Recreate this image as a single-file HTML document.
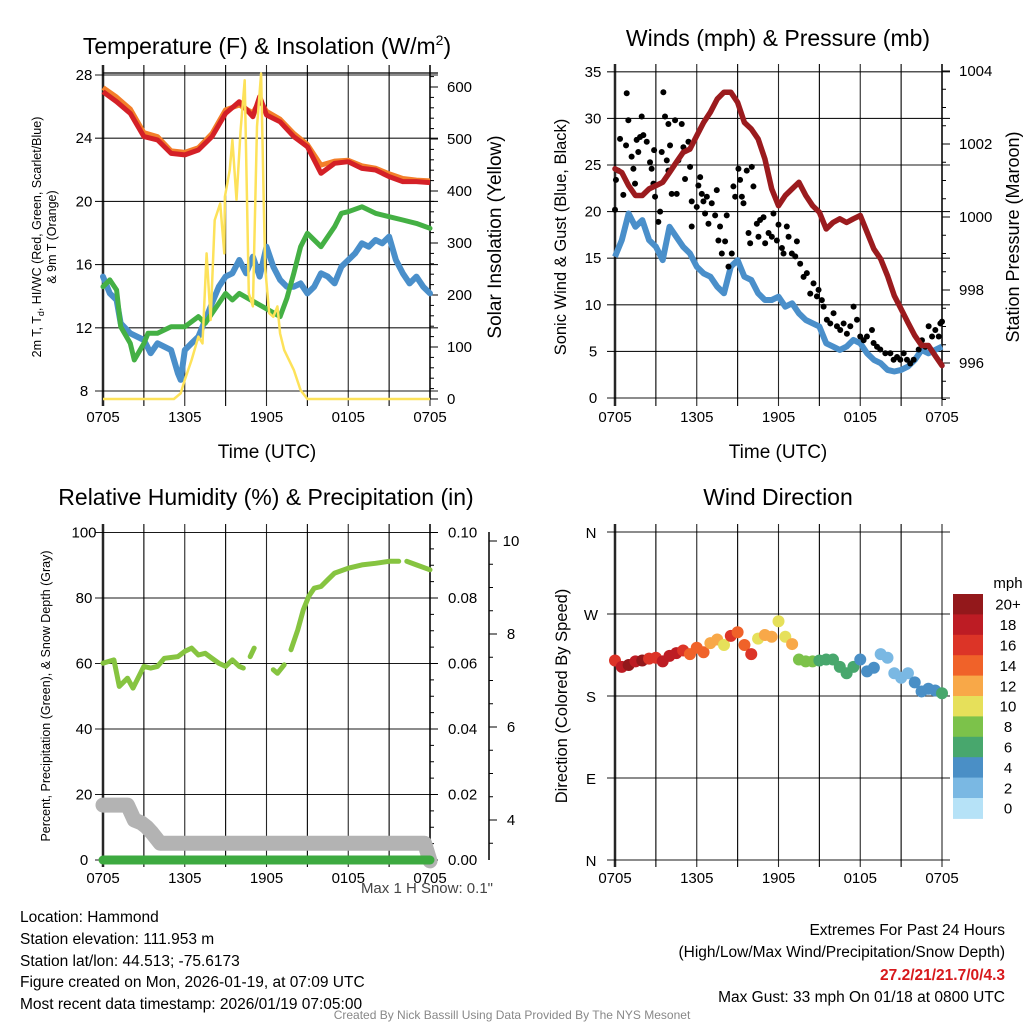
<!DOCTYPE html>
<html><head><meta charset="utf-8"><title>Mesonet Meteogram - Hammond</title>
<style>
html,body{margin:0;padding:0;background:#fff;}
svg{display:block;font-family:"Liberation Sans",Arial,sans-serif;}
</style></head>
<body>
<svg id="chart" xmlns="http://www.w3.org/2000/svg" width="1024" height="1024" viewBox="0 0 1024 1024">
<rect x="0" y="0" width="1024" height="1024" fill="#fff"/>
<g id="p1"></g>
<g id="p2"></g>
<g id="p3"></g>
<g id="p4"></g>

<text x="267" y="54" font-size="23" text-anchor="middle">Temperature (F) &amp; Insolation (W/m<tspan dy="-9" font-size="14">2</tspan><tspan dy="9">)</tspan></text>
<text x="778" y="46" font-size="23" text-anchor="middle">Winds (mph) &amp; Pressure (mb)</text>
<text x="266" y="505" font-size="23" text-anchor="middle">Relative Humidity (%) &amp; Precipitation (in)</text>
<text x="778" y="505" font-size="23" text-anchor="middle">Wind Direction</text>

<text x="267" y="458" font-size="19" text-anchor="middle">Time (UTC)</text>
<text x="778" y="458" font-size="19" text-anchor="middle">Time (UTC)</text>

<text transform="translate(41,237) rotate(-90)" font-size="12.5" text-anchor="middle">2m T, T<tspan font-size="9" dy="3">d</tspan><tspan dy="-3">, HI/WC (Red, Green, Scarlet/Blue)</tspan></text>
<text transform="translate(56,237) rotate(-90)" font-size="12.5" text-anchor="middle">&amp; 9m T (Orange)</text>
<text transform="translate(501,237) rotate(-90)" font-size="19" text-anchor="middle">Solar Insolation (Yellow)</text>
<text transform="translate(566,237) rotate(-90)" font-size="16.5" text-anchor="middle">Sonic Wind &amp; Gust (Blue, Black)</text>
<text transform="translate(1019,237) rotate(-90)" font-size="18" text-anchor="middle">Station Pressure (Maroon)</text>
<text transform="translate(50,696) rotate(-90)" font-size="12.5" text-anchor="middle">Percent, Precipitation (Green), &amp; Snow Depth (Gray)</text>
<text transform="translate(567,696) rotate(-90)" font-size="16.5" text-anchor="middle">Direction (Colored By Speed)</text>

<text x="493" y="893" font-size="15" text-anchor="end" fill="#444">Max 1 H Snow: 0.1"</text>

<g font-size="15.5">
<text x="20" y="922">Location: Hammond</text>
<text x="20" y="944">Station elevation: 111.953 m</text>
<text x="20" y="966">Station lat/lon: 44.513; -75.6173</text>
<text x="20" y="987">Figure created on Mon, 2026-01-19, at 07:09 UTC</text>
<text x="20" y="1009">Most recent data timestamp: 2026/01/19 07:05:00</text>
</g>
<g font-size="15.5" text-anchor="end">
<text x="1005" y="935">Extremes For Past 24 Hours</text>
<text x="1005" y="957">(High/Low/Max Wind/Precipitation/Snow Depth)</text>
<text x="1005" y="980" fill="#d7191c" font-weight="bold">27.2/21/21.7/0/4.3</text>
<text x="1005" y="1002">Max Gust: 33 mph On 01/18 at 0800 UTC</text>
</g>
<text x="512" y="1019" font-size="12" text-anchor="middle" fill="#888">Created By Nick Bassill Using Data Provided By The NYS Mesonet</text>
</svg>
<script>
// ---------- shared data ----------
const xTickLabels = ['0705','1305','1905','0105','0705'];
// Panel 1
const tempTicks = [8,12,16,20,24,28];
const solarTicks = [0,100,200,300,400,500,600];
const tempHours = [0,1,2,3,4,5,6,7,8,9,10,11,11.5,12,13,14,15,16,17,18,19,20,21,22,23,24];
const tempRed = [26.94,26.31,25.57,24.10,23.89,23.04,22.94,23.25,24.1,25.57,26.31,25.36,26.63,25.47,25.04,24.10,23.46,21.78,22.41,22.51,22.09,21.99,21.57,21.25,21.25,21.19];
const tempOrange = [27.2,26.6,25.85,24.35,24.1,23.2,23.1,23.4,24.3,25.8,26.1,25.6,26.4,25.7,25.2,24.3,23.6,22.3,22.55,22.6,22.25,22.1,21.75,21.45,21.35,21.3];
const dewHours = [0,0.5,1,1.3,2,2.3,3,3.3,4,5,6,7,7.5,8,9,9.5,10,13,13.5,14,14.5,15,16,17,17.5,18,19,20,21,22,23,24];
const dewGreen = [14.6,15.03,14.39,12.07,11.01,9.96,11.01,11.65,11.65,12.07,12.07,12.71,12.28,12.92,14.18,13.76,14.18,12.71,13.87,15.45,17.13,17.98,17.13,18.4,19.25,19.35,19.66,19.25,19.03,18.82,18.61,18.3];
const blueHours = [0,0.5,1,1.3,2,3,3.5,4,5,5.5,5.7,6,6.5,7,7.5,8,8.5,9,9.5,10,10.5,11,11.5,12,12.5,13,13.5,14,14.5,15,15.5,16,16.5,17,17.5,18,18.5,19,19.5,20,20.5,21,21.5,22,22.5,23,23.5,24];
const blueTemp = [15.24,14.18,13.76,12.28,11.65,11.23,10.39,11.02,10.59,9.12,8.7,10.59,11.02,11.44,12.49,13.55,14.6,15.24,15.45,16.29,15.45,16.5,15.24,17.13,15.87,15.03,14.6,14.6,14.81,14.18,14.6,15.45,15.24,14.81,15.87,16.29,16.71,17.35,17.13,17.56,17.35,17.77,16.29,15.45,14.81,15.24,14.6,14.18];
const solarHours = [0,5.2,5.7,6,6.5,7,7.3,7.6,7.9,8.2,8.6,8.9,8.95,9.3,9.5,9.8,10.1,10.4,10.7,11,11.3,11.6,11.9,12.2,12.5,12.8,13,13.3,14,14.5,15,24];
const solarVals = [0,0,11,37,75,120,107,280,152,344,376,280,389,440,498,383,517,613,203,178,524,626,254,165,158,178,126,94,56,17,0,0];
// Panel 2
const windTicks = [0,5,10,15,20,25,30,35];
const presTicks = [996,998,1000,1002,1004];
const halfHours = [0,0.5,1,1.5,2,2.5,3,3.5,4,4.5,5,5.5,6,6.5,7,7.5,8,8.5,9,9.5,10,10.5,11,11.5,12,12.5,13,13.5,14,14.5,15,15.5,16,16.5,17,17.5,18,18.5,19,19.5,20,20.5,21,21.5,22,22.5,23,23.5,24];
const pressure = [1001.32,1001.22,1000.86,1000.59,1000.59,1000.77,1000.86,1000.95,1001.22,1001.5,1001.77,1001.86,1002.23,1002.59,1002.87,1003.23,1003.42,1003.42,1003.14,1002.59,1002.41,1002.14,1001.59,1000.77,1000.31,1000.59,1000.77,1000.95,1000.59,1000.31,1000.13,999.67,999.85,999.95,999.85,999.95,1000.04,999.58,999.12,998.85,998.39,997.84,997.48,997.11,996.75,996.48,996.48,996.2,995.93];
const sonicWind = [15.16,16.94,19.8,18.37,19.09,16.94,16.23,14.8,18.37,17.3,16.23,15.52,14.09,13.37,13.02,11.94,11.23,14.09,14.8,13.02,12.66,11.23,10.52,10.52,10.87,9.8,10.16,9.09,8.37,8.02,7.66,5.87,5.52,5.16,5.52,6.23,5.87,4.8,4.09,3.73,3.02,2.84,3.02,3.37,4.09,5.16,4.8,5.16,5.52];
const gustHours = [0,0.07,0.24,0.37,0.61,0.86,0.98,0.81,1.22,1.35,1.47,1.59,1.71,1.84,1.96,2.08,2.33,2.57,2.69,2.82,2.87,2.94,3.18,3.31,3.43,3.55,3.67,3.8,3.92,3.92,4.04,4.16,4.41,4.53,4.65,4.9,5.02,5.14,5.39,5.51,5.63,5.63,6,6.12,6.25,6.37,6.49,6.61,6.74,6.86,7.1,7.35,7.47,7.59,7.71,7.84,8.08,8.2,8.33,8.57,8.69,8.82,9.06,9.18,9.31,9.43,9.67,9.8,9.92,10.04,10.16,10.41,10.53,10.65,10.9,11.02,11.27,11.51,11.63,11.88,12,12.25,12.37,12.61,12.74,12.98,13.23,13.35,13.59,13.84,14.08,14.33,14.57,14.82,14.94,15.18,15.31,15.55,15.8,16.04,16.29,16.53,16.78,17.02,17.27,17.51,17.76,18,18.25,18.49,18.86,18.98,19.23,19.47,19.84,20.21,20.45,20.7,20.94,21.19,21.43,21.67,21.92,22.29,22.53,22.78,23.02,23.27,23.51,23.76,23.88,24];
const gustMph = [20.2,23.4,24.4,27.8,21.8,32.7,29.8,27.1,25.9,24.6,23,27.7,26.4,28,30.2,28.2,27.5,25.3,24.6,23,26.6,21.6,18.9,20,26.4,32.8,30.2,25.5,29.4,24.4,27.1,21.9,29.8,21.9,25.5,29.4,26.9,23.5,27.5,24.8,18.4,21.1,20.5,22.8,23.7,21.9,21.1,19.8,21.6,18.7,20.9,19.6,22.3,16.9,18.4,15.5,16.8,19.6,14.1,15.5,22.7,21.6,24.6,23.4,21.6,20.9,24.4,17.7,16.6,24.8,22.7,18.7,17.3,19.1,19.4,16.6,17.7,17.3,19.8,16.9,18.6,16.1,15.5,18.4,17.3,15.5,15.2,16.8,14.4,13,13.4,11.2,12.3,10.9,11.6,10.5,9.8,8.4,8,9.1,7.7,7.3,8,6.9,7.7,9.8,8.4,6.6,6.2,6.6,7.3,5.9,5.5,5.2,4.8,4.8,4.1,4.4,4.1,4.8,4.1,3.7,4.1,5.2,6.2,5.5,7.7,6.6,7.3,6.6,8,8.2];
// Panel 3
const rhTicks = [0,20,40,60,80,100];
const precipTicks = ['0.00','0.02','0.04','0.06','0.08','0.10'];
const snowTicks = [4,6,8,10];
const rhHours = [0,0.8,1.2,1.8,2.2,3,3.5,4,4.5,5.5,6,6.5,7,7.5,8,8.5,9,9.5,10,10.3,null,10.8,11.1,null,12.5,12.8,13.3,null,13.8,14.3,14.7,15.1,15.5,16,16.5,17,18,19,20,21,21.7,null,22.3,23,24];
const rhVals = [60.1,61.1,53,55.5,52.5,59.1,58.6,59.1,61.6,62.1,63.7,64.7,62.6,63.1,61.6,60.1,59.1,61.1,59.1,58.6,null,62.1,64.7,null,58.1,57,59.6,null,64.2,70.3,76.4,80.5,83,83.5,85.6,87.6,89.1,90.1,90.6,91.2,91.2,null,91.2,90.1,88.6];
const precipHours = [0,24];
const precipVals = [0,0];
const snowHours = [0,1,1.8,2.3,2.8,3.2,3.6,4.2,8,12,16,20,23.6,24];
const snowDepth = [4.32,4.32,4.32,4.0,3.94,3.85,3.72,3.5,3.5,3.5,3.5,3.5,3.5,3.12];
// Panel 4
const dirTickLabels = ['N','E','S','W','N'];
const dirTicks = [0,90,180,270,360];
const dirDeg = [219,212,214,218,219,221,222,218,224,227,230,226,233,228,238,242,236,246,250,236,226,243,247,245,262,245,237,220,218,218,219,220,220,212,205,212,220,207,211,226,222,205,200,205,195,185,188,186,183];
const dirSpeed = [17,19,20,19,20,17,17,18,19,18,17,14,14,14,12,13,10,16,15,15,16,11,12,12,10,10,12,9,8,9,7,7,6,6,7,6,5,5,4,2,3,3,2,3,4,4,5,4,6];
const speedBinLabels = ['0','2','4','6','8','10','12','14','16','18','20+'];
const speedBinColors = ['#b6e2f7','#7ab8e3','#4a8fc6','#48a76d','#7cc24a','#e6e05a','#f8a848','#f06229','#dc3427','#bd1c24','#93181b'];

// ---------- helpers ----------
const NS = 'http://www.w3.org/2000/svg';
function mk(parent, tag, attrs) {
  const el = document.createElementNS(NS, tag);
  for (const k in attrs) el.setAttribute(k, attrs[k]);
  parent.appendChild(el);
  return el;
}
function pathFrom(xs, ys, fx, fy) {
  let d = '', pen = false;
  for (let i = 0; i < xs.length; i++) {
    if (xs[i] === null || ys[i] === null) { pen = false; continue; }
    d += (pen ? 'L' : 'M') + fx(xs[i]).toFixed(1) + ',' + fy(ys[i]).toFixed(1);
    pen = true;
  }
  return d;
}
function frame(g, X0, X1, T, B, hLines, name) {
  for (let h = 0; h <= 24; h += 3) {
    const x = X0 + h / 24 * (X1 - X0);
    const l = mk(g, 'line', {x1: x, x2: x, y1: T - 8, y2: B + 7, stroke: '#000', 'stroke-width': (h === 0 ? 2.5 : 1.1), 'stroke-opacity': (h % 6 === 0 ? 0.85 : 1)});
    
    
  }
  hLines.forEach(function (y) {
    const l = mk(g, 'line', {x1: X0 - 8, x2: X1 + 8, y1: y, y2: y, stroke: '#000', 'stroke-width': 1.1, 'stroke-opacity': 0.9});
    
    
  });
  xTickLabels.forEach(function (lab, i) {
    const t = mk(g, 'text', {x: X0 + i * 6 / 24 * (X1 - X0), y: B + 23, 'font-size': 15, 'text-anchor': 'middle'});
    t.textContent = lab;
    
    
  });
}

// ---------- Panel 1 ----------
(function () {
  const g = document.getElementById('p1');
  const X0 = 103, X1 = 430, T = 73, B = 399;
  const fx = t => X0 + t / 24 * (X1 - X0);
  const fyL = v => 391 - (v - 8) * 15.8;
  const fyR = w => 399 - w * 0.52;
  frame(g, X0, X1, T, B, tempTicks.map(fyL), 'temperature');
  const top = mk(g, 'line', {x1: X0, x2: X1 + 8, y1: T, y2: T, stroke: '#000', 'stroke-width': 1.3});
  
  
  const rax = mk(g, 'line', {x1: X1, x2: X1, y1: T - 8, y2: B, stroke: '#000', 'stroke-width': 1.5});
  
  
  tempTicks.forEach(function (v) {
    const t = mk(g, 'text', {x: 84, y: fyL(v) + 5, 'font-size': 15, 'text-anchor': 'middle'});
    t.textContent = v;
    
    
  });
  for (let w = 0; w <= 620; w += 20) {
    const tk = mk(g, 'line', {x1: X1, x2: X1 + (w % 100 === 0 ? 8 : 4), y1: fyR(w), y2: fyR(w), stroke: '#000', 'stroke-width': 1});
    
    
  }
  solarTicks.forEach(function (w) {
    const t = mk(g, 'text', {x: 447, y: fyR(w) + 5, 'font-size': 15});
    t.textContent = w;
    
    
  });
  const s1 = mk(g, 'path', {d: pathFrom(blueHours, blueTemp, fx, fyL), fill: 'none', stroke: '#4a8fca', 'stroke-width': 6, 'stroke-linejoin': 'round', 'stroke-linecap': 'round'});
  
  
  const s2 = mk(g, 'path', {d: pathFrom(dewHours, dewGreen, fx, fyL), fill: 'none', stroke: '#44b044', 'stroke-width': 5, 'stroke-linejoin': 'round', 'stroke-linecap': 'round'});
  
  
  const s3 = mk(g, 'path', {d: pathFrom(tempHours, tempOrange, fx, fyL), fill: 'none', stroke: '#f37f2a', 'stroke-width': 5, 'stroke-linejoin': 'round'});
  
  
  const s4 = mk(g, 'path', {d: pathFrom(tempHours, tempRed, fx, fyL), fill: 'none', stroke: '#d42027', 'stroke-width': 5, 'stroke-linejoin': 'round'});
  
  
  const s5 = mk(g, 'path', {d: pathFrom(solarHours, solarVals, fx, fyR), fill: 'none', stroke: '#fde25a', 'stroke-width': 2.5, 'stroke-linejoin': 'round'});
  
  
})();

// ---------- Panel 2 ----------
(function () {
  const g = document.getElementById('p2');
  const X0 = 615, X1 = 942, T = 72, B = 399;
  const fx = t => X0 + t / 24 * (X1 - X0);
  const fyL = m => 398 - m * 9.32;
  const fyR = p => 363 - (p - 996) * 36.5;
  frame(g, X0, X1, T, B, windTicks.map(fyL), 'winds');
  const rax = mk(g, 'line', {x1: X1, x2: X1, y1: T - 8, y2: B, stroke: '#000', 'stroke-width': 1.5});
  
  
  windTicks.forEach(function (v) {
    const t = mk(g, 'text', {x: 593, y: fyL(v) + 5, 'font-size': 15, 'text-anchor': 'middle'});
    t.textContent = v;
    
    
  });
  for (let p = 995; p <= 1004.01; p += 0.5) {
    const tk = mk(g, 'line', {x1: X1, x2: X1 + (Math.abs(p % 2) < 0.01 ? 8 : 4), y1: fyR(p), y2: fyR(p), stroke: '#000', 'stroke-width': 1});
    
    
  }
  presTicks.forEach(function (p) {
    const t = mk(g, 'text', {x: 959, y: fyR(p) + 5, 'font-size': 15});
    t.textContent = p;
    
    
  });
  const w = mk(g, 'path', {d: pathFrom(halfHours, sonicWind, fx, fyL), fill: 'none', stroke: '#4a8fca', 'stroke-width': 6, 'stroke-linejoin': 'round'});
  
  
  for (let i = 0; i < gustHours.length; i++) {
    const c = mk(g, 'circle', {cx: fx(gustHours[i]), cy: fyL(gustMph[i]), r: 3, fill: '#000'});
    
    
  }
  const p = mk(g, 'path', {d: pathFrom(halfHours, pressure, fx, fyR), fill: 'none', stroke: '#9b1b1e', 'stroke-width': 5.5, 'stroke-linejoin': 'round', 'stroke-linecap': 'round'});
  
  
})();

// ---------- Panel 3 ----------
(function () {
  const g = document.getElementById('p3');
  const X0 = 103, X1 = 430, T = 532, B = 860;
  const fx = t => X0 + t / 24 * (X1 - X0);
  const fyRH = v => 860 - v * 3.275;
  const fyP = v => 860 - v * 3275;
  const fyS = s => 820 - (s - 4) * 46.5;
  frame(g, X0, X1, T, B, rhTicks.map(fyRH), 'humidity');
  const rax = mk(g, 'line', {x1: X1, x2: X1, y1: T - 8, y2: B, stroke: '#000', 'stroke-width': 1.5});
  
  
  rhTicks.forEach(function (v) {
    const t = mk(g, 'text', {x: 84, y: fyRH(v) + 5, 'font-size': 15, 'text-anchor': 'middle'});
    t.textContent = v;
    
    
  });
  for (let k = 0; k <= 20; k++) {
    const y = fyRH(k * 5);
    const tk = mk(g, 'line', {x1: X1, x2: X1 + (k % 4 === 0 ? 8 : 4), y1: y, y2: y, stroke: '#000', 'stroke-width': 1});
    
    
  }
  precipTicks.forEach(function (lab) {
    const t = mk(g, 'text', {x: 448, y: fyP(parseFloat(lab)) + 5, 'font-size': 15});
    t.textContent = lab;
    
    
  });
  const sax = mk(g, 'line', {x1: 489, x2: 489, y1: 532, y2: 860, stroke: '#000', 'stroke-width': 1.5});
  
  
  for (let s = 3.5; s <= 10.01; s += 0.5) {
    const tk = mk(g, 'line', {x1: 489, x2: 489 + (Math.abs(s % 2) < 0.01 ? 8 : 4), y1: fyS(s), y2: fyS(s), stroke: '#000', 'stroke-width': 1});
    
    
  }
  snowTicks.forEach(function (s) {
    const t = mk(g, 'text', {x: 511, y: fyS(s) + 5, 'font-size': 15, 'text-anchor': 'middle'});
    t.textContent = s;
    
    
  });
  const sn = mk(g, 'path', {d: pathFrom(snowHours, snowDepth, fx, fyS), fill: 'none', stroke: '#b3b3b3', 'stroke-width': 15, 'stroke-linejoin': 'round', 'stroke-linecap': 'round'});
  
  
  const pr = mk(g, 'path', {d: pathFrom(precipHours, precipVals, fx, fyP), fill: 'none', stroke: '#3daa40', 'stroke-width': 9, 'stroke-linecap': 'round'});
  
  
  const rh = mk(g, 'path', {d: pathFrom(rhHours, rhVals, fx, fyRH), fill: 'none', stroke: '#86c440', 'stroke-width': 5, 'stroke-linejoin': 'round', 'stroke-linecap': 'round'});
  
  
})();

// ---------- Panel 4 ----------
(function () {
  const g = document.getElementById('p4');
  const X0 = 615, X1 = 942, T = 532, B = 860;
  const fx = t => X0 + t / 24 * (X1 - X0);
  const fy = d => 860 - d * (328 / 360);
  frame(g, X0, X1, T, B, dirTicks.map(fy), 'direction');
  dirTicks.forEach(function (d, i) {
    const t = mk(g, 'text', {x: 591, y: fy(d) + 6, 'font-size': 15, 'text-anchor': 'middle'});
    t.textContent = dirTickLabels[i];
    
    
  });
  for (let i = 0; i < dirDeg.length; i++) {
    const bin = Math.min(10, Math.floor(dirSpeed[i] / 2));
    const c = mk(g, 'circle', {cx: fx(halfHours[i]), cy: fy(dirDeg[i]), r: 6, fill: speedBinColors[bin]});
    
    
  }
  const cbTop = 594, cbH = 20.4;
  const unit = mk(g, 'text', {x: 1008, y: 588, 'font-size': 15, 'text-anchor': 'middle'});
  unit.textContent = 'mph';
  
  
  for (let k = 0; k < speedBinLabels.length; k++) {
    const idx = speedBinLabels.length - 1 - k;
    const r = mk(g, 'rect', {x: 953, y: cbTop + k * cbH, width: 30, height: cbH + 0.5, fill: speedBinColors[idx]});
    
    
    const t = mk(g, 'text', {x: 1008, y: cbTop + k * cbH + cbH / 2 + 5.5, 'font-size': 15, 'text-anchor': 'middle'});
    t.textContent = speedBinLabels[idx];
    
    
  }
})();
</script>
</body></html>
